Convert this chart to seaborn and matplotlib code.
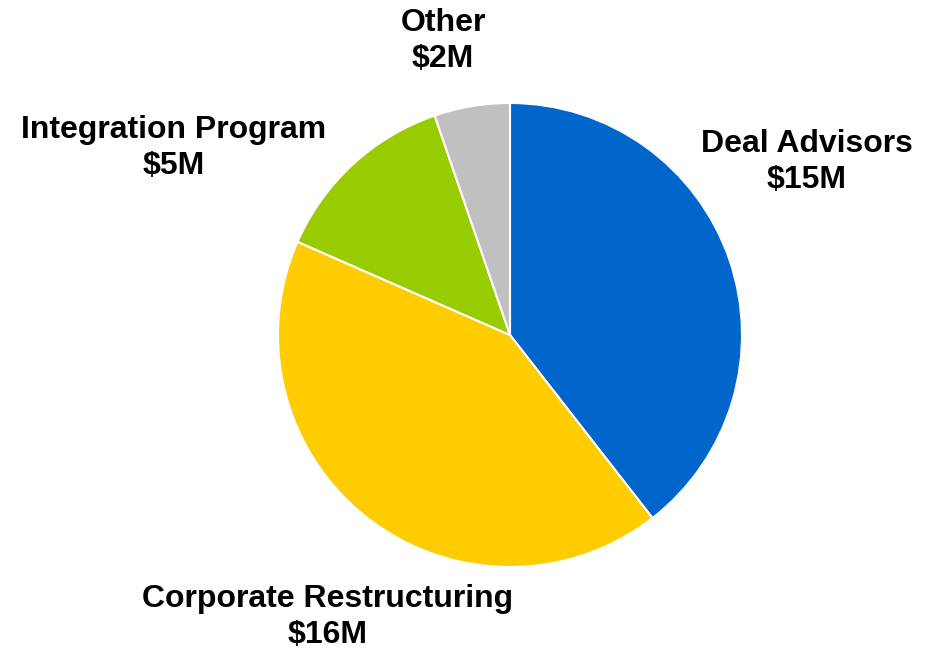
import matplotlib
matplotlib.use("Agg")
import matplotlib.pyplot as plt
import seaborn as sns

# Cost breakdown ($M)
categories = ["Deal Advisors", "Corporate Restructuring", "Integration Program", "Other"]
values = [15, 16, 5, 2]
value_labels = ["$15M", "$16M", "$5M", "$2M"]

colors = ["#0066CC", "#FFCC00", "#99CC00", "#C0C0C0"]
# label anchor points in figure pixel space (x, y from top)
label_pos = [(807, 162), (328, 617), (174, 148), (443, 41)]

sns.set_theme(style="white")
plt.rcParams["font.family"] = ["Liberation Sans", "DejaVu Sans"]

W, H = 935, 650
fig = plt.figure(figsize=(W / 100, H / 100), dpi=100)
ax = fig.add_axes([0, 0, 1, 1])

ax.pie(values, colors=colors, startangle=90, counterclock=False,
       center=(510, H - 335), radius=232, frame=True,
       wedgeprops=dict(edgecolor="white", linewidth=1.5))
ax.set_xlim(0, W)
ax.set_ylim(0, H)
ax.set_aspect("equal")
ax.axis("off")

for name, val, (x, y) in zip(categories, value_labels, label_pos):
    ax.text(x, H - y, f"{name}\n{val}", ha="center", va="center",
            fontsize=23, fontweight="bold", color="black", linespacing=1.3)

fig.savefig("out.png", dpi=100, facecolor="white")
